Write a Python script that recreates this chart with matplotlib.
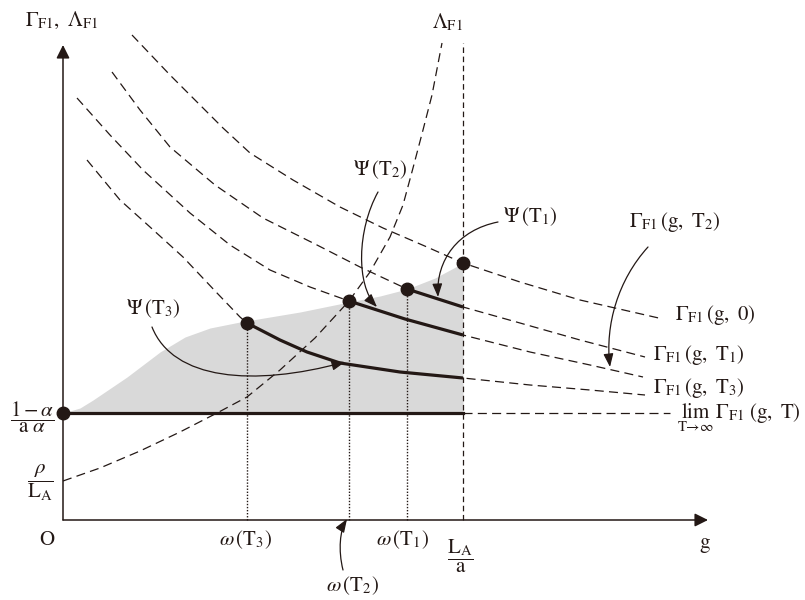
import numpy as np
import matplotlib
matplotlib.use("Agg")
import matplotlib.pyplot as plt
from matplotlib.patches import FancyArrowPatch
from matplotlib.path import Path

plt.rcParams["mathtext.fontset"] = "stix"
plt.rcParams["font.family"] = ["STIXGeneral", "DejaVu Serif"]
plt.rcParams["lines.scale_dashes"] = False

INK = "#231815"
SHADE = "#d9d9d9"

# ---- key levels on the axes -------------------------------------------
g_max = 40.0            # L_A / a
floor_level = 10.7      # (1 - alpha) / (a alpha)
rho_over_LA = 3.9       # rho / L_A
omega_T3 = 18.4
omega_T2 = 28.6
omega_T1 = 34.4

# ---- Lambda_F1 curve ------------------------------------------------------
lam_x = [0.0, 3.7, 7.7, 11.7, 15.4, 18.4, 21.7, 25.2, 28.6, 30.7, 32.7, 34.0, 35.0, 36.0, 36.9, 37.9]
lam_y = [3.9, 5.2, 6.9, 8.8, 10.7, 12.3, 15.0, 18.2, 21.9, 24.8, 28.3, 31.5, 35.2, 39.0, 42.5, 47.7]

# ---- Gamma_F1(g, T) curves ---------------------------------------------
gam0_x = [6.9, 10.7, 16.0, 18.7, 23.0, 27.7, 32.0, 36.4, 40.0, 45.7, 51.7, 60.0]
gam0_y = [48.5, 44.5, 39.2, 36.7, 34.0, 31.3, 29.2, 27.3, 25.7, 23.8, 22.0, 20.1]

gamT1_x = [4.9, 7.7, 10.7, 15.2, 20.0, 25.4, 29.7, 34.4, 37.2, 40.0, 45.7, 51.7, 58.2]
gamT1_y = [44.8, 41.0, 37.3, 33.5, 30.2, 27.5, 25.3, 23.1, 22.2, 21.3, 19.7, 18.0, 16.3]

gamT2_x = [1.4, 4.7, 8.0, 12.7, 16.7, 20.7, 24.7, 28.6, 34.2, 40.0, 46.7, 52.7, 58.0]
gamT2_y = [42.2, 38.5, 35.0, 30.7, 27.5, 25.0, 23.3, 21.9, 20.1, 18.5, 16.8, 15.5, 14.3]

gamT3_x = [2.4, 5.7, 8.7, 12.0, 15.4, 17.7, 18.4, 21.7, 24.4, 27.7, 33.7, 40.0, 46.7, 52.7, 58.2]
gamT3_y = [36.0, 32.0, 29.3, 26.3, 22.7, 20.3, 19.7, 18.0, 16.8, 15.7, 14.8, 14.2, 13.5, 13.0, 12.5]

# ---- upper edge of the shaded feasible region ---------------------------
shade_x = [0.0, 1.7, 3.0, 6.4, 9.7, 12.2, 14.7, 17.7, 23.7, 28.6, 31.7, 34.4, 37.2, 40.0]
shade_y = [10.7, 11.2, 12.0, 14.3, 16.8, 18.3, 19.2, 19.8, 20.8, 21.8, 22.4, 23.1, 24.2, 25.7]

fig = plt.figure(figsize=(8.05, 6.0), dpi=100)
ax = fig.add_axes([0, 0, 1, 1])
ax.set_xlim(-6.3, 74.2)
ax.set_ylim(-8.0, 52.0)
ax.axis("off")

# shaded region
ax.fill_between(shade_x, floor_level, shade_y, color=SHADE, lw=0, zorder=1)

DASH = dict(color=INK, lw=0.9, dashes=(6.5, 3.8), zorder=3)

# dashed curves
ax.plot(lam_x, lam_y, **DASH)
curves = [(gam0_x, gam0_y, g_max), (gamT1_x, gamT1_y, omega_T1),
          (gamT2_x, gamT2_y, omega_T2), (gamT3_x, gamT3_y, omega_T3)]
for cx, cy, start in curves:
    ax.plot(cx, cy, **DASH)
    cx = np.asarray(cx)
    cy = np.asarray(cy)
    seg = (cx >= start - 1e-9) & (cx <= g_max + 1e-9)
    if seg.sum() > 1:
        ax.plot(cx[seg], cy[seg], color=INK, lw=2.3, solid_capstyle="butt", zorder=4)

# limit curve: solid up to L_A/a, dashed beyond
ax.plot([0, g_max], [floor_level, floor_level], color=INK, lw=2.3, zorder=4)
ax.plot([g_max, 60.7], [floor_level, floor_level], **DASH)

# vertical guides
ax.plot([g_max, g_max], [0, 47.7], color=INK, lw=0.9, dashes=(4.0, 2.6), zorder=3)
dots_x = [omega_T3, omega_T2, omega_T1, g_max, 0.0]
dots_y = [19.7, 21.9, 23.1, 25.7, floor_level]
for xv, yv in zip(dots_x[:3], dots_y[:3]):
    ax.plot([xv, xv], [0, yv], color=INK, lw=1.0, dashes=(1.0, 1.2), zorder=3)

ax.plot(dots_x, dots_y, "o", color=INK, ms=9, zorder=6)

# axes with arrow heads
for tip in [(64.5, 0.0), (0.0, 47.5)]:
    ax.add_patch(FancyArrowPatch((0, 0), tip, arrowstyle="-|>,head_length=0.8,head_width=0.4",
                                 mutation_scale=10, color=INK, lw=1.1, shrinkA=0, shrinkB=0, zorder=5))

# curved pointer arrows
def pointer(p0, p1, p2, p3):
    path = Path([p0, p1, p2, p3], [Path.MOVETO, Path.CURVE4, Path.CURVE4, Path.CURVE4])
    ax.add_patch(FancyArrowPatch(path=path, arrowstyle="-|>,head_length=0.8,head_width=0.3",
                                 mutation_scale=10, color=INK, lw=0.9, zorder=7))

pointer((8.9, 19.3), (11.0, 14.0), (19.0, 13.3), (28.2, 15.8))
pointer((31.5, 32.8), (29.4, 29.0), (29.3, 23.5), (31.4, 21.3))
pointer((43.5, 29.8), (39.5, 29.0), (37.3, 26.0), (37.5, 22.3))
pointer((58.5, 27.3), (55.5, 24.0), (54.2, 19.5), (54.7, 15.3))
pointer((28.0, -5.0), (27.5, -3.0), (27.7, -1.0), (28.4, 0.1))

FS = 15
T = dict(color=INK, fontsize=FS)
ax.text(-0.1, 50.0, r"$\Gamma_{\mathrm{F1}},\ \Lambda_{\mathrm{F1}}$", ha="center", va="center", **T)
ax.text(38.4, 49.8, r"$\Lambda_{\mathrm{F1}}$", ha="center", va="center", **T)
ax.text(-3.1, 10.3, r"$\dfrac{1-\alpha}{\mathrm{a}\ \alpha}$", ha="center", va="center", **T)
ax.text(-2.3, 3.7, r"$\dfrac{\rho}{\mathrm{L}_{\mathrm{A}}}$", ha="center", va="center", **T)
ax.text(-1.6, -2.0, "O", ha="center", va="center", **T)
ax.text(18.2, -2.0, r"$\omega\,(\mathrm{T}_3)$", ha="center", va="center", **T)
ax.text(33.9, -2.0, r"$\omega\,(\mathrm{T}_1)$", ha="center", va="center", **T)
ax.text(39.7, -3.6, r"$\dfrac{\mathrm{L}_{\mathrm{A}}}{\mathrm{a}}$", ha="center", va="center", **T)
ax.text(64.2, -2.3, "g", ha="center", va="center", **T)
ax.text(28.9, -6.6, r"$\omega\,(\mathrm{T}_2)$", ha="center", va="center", **T)
ax.text(9.0, 21.1, r"$\Psi\,(\mathrm{T}_3)$", ha="center", va="center", **T)
ax.text(31.7, 35.0, r"$\Psi\,(\mathrm{T}_2)$", ha="center", va="center", **T)
ax.text(46.7, 30.3, r"$\Psi\,(\mathrm{T}_1)$", ha="center", va="center", **T)
ax.text(61.2, 29.8, r"$\Gamma_{\mathrm{F1}}\,(\mathrm{g},\ \mathrm{T}_2)$", ha="center", va="center", **T)
ax.text(61.2, 20.0, r"$\Gamma_{\mathrm{F1}}\,(\mathrm{g},\ 0)$", ha="left", va="baseline", **T)
ax.text(59.0, 16.0, r"$\Gamma_{\mathrm{F1}}\,(\mathrm{g},\ \mathrm{T}_1)$", ha="left", va="baseline", **T)
ax.text(59.0, 12.7, r"$\Gamma_{\mathrm{F1}}\,(\mathrm{g},\ \mathrm{T}_3)$", ha="left", va="baseline", **T)
ax.text(61.4, 10.2, r"$\lim_{\mathrm{T}\to\infty}\,\Gamma_{\mathrm{F1}}\,(\mathrm{g},\ \mathrm{T})$",
        ha="left", va="baseline", **T)

fig.savefig("out.png", dpi=100)
